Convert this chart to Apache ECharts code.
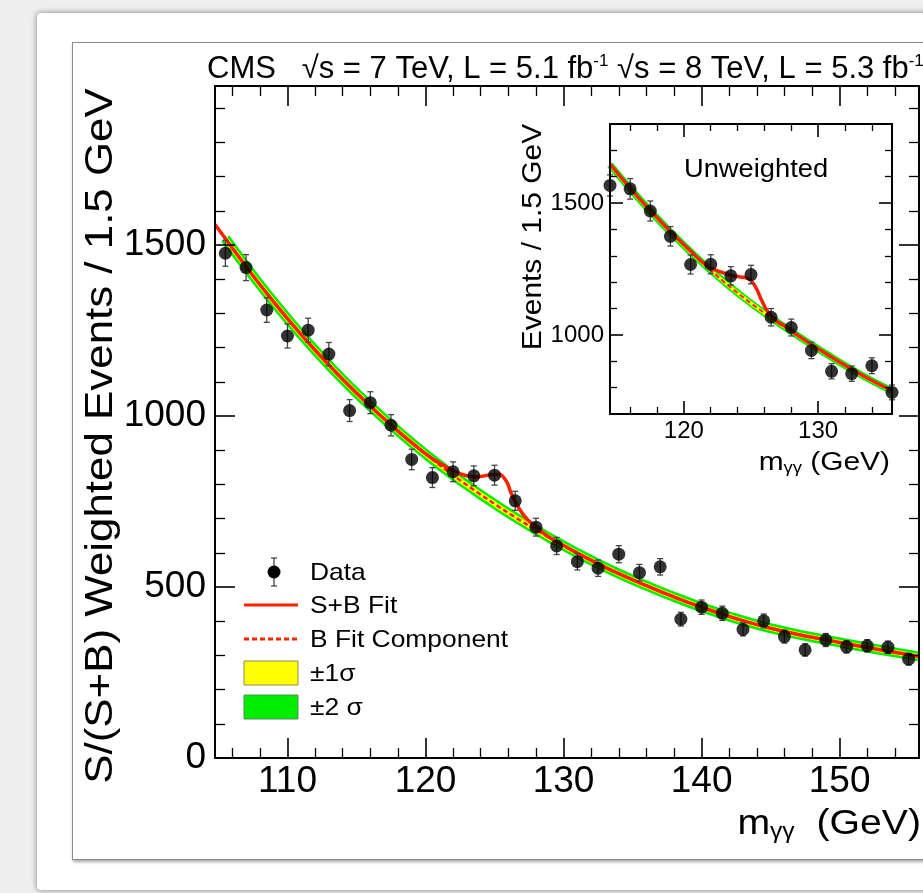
<!DOCTYPE html>
<html>
<head>
<meta charset="utf-8">
<script src="https://cdn.jsdelivr.net/npm/echarts@6/dist/echarts.min.js"></script>
<style>
html,body{margin:0;padding:0;width:923px;height:893px;overflow:hidden;background:#eeeeee;}
#card{position:absolute;left:37px;top:13px;width:960px;height:877px;background:#fff;box-shadow:0 0 5px 1px rgba(0,0,0,0.35);border-radius:4px;}
#inner{position:absolute;left:72px;top:42px;width:920px;height:816px;border:1px solid #8a8a8a;box-shadow:1px 2px 3px rgba(0,0,0,0.35);background:#fff;}
#chart{position:absolute;left:0;top:0;width:923px;height:893px;}
</style>
</head>
<body>
<div id="card"></div>
<div id="inner"></div>
<div id="chart"></div>
<script>
// ---------------- data ----------------
const mainX = [105.5,107,108.5,110,111.5,113,114.5,116,117.5,119,120.5,122,123.5,125,126.5,128,129.5,131,132.5,134,135.5,137,138.5,140,141.5,143,144.5,146,147.5,149,150.5,152,153.5,155];
const mainY = [1476,1434,1310,1234,1251,1181,1016,1039,973,873,820,837,825,827,752,675,620,574,555,596,542,559,406,441,423,376,401,355,316,345,325,328,324,289];
const mainErr = [38,38,36,35,35,34,32,32,31,30,29,29,29,29,28,26,25,24,24,25,24,24,20,21,21,19,20,19,18,19,18,18,18,17];

const mainBgX = [104.75,105.5,107,108.5,110,111.5,113,114.5,116,117.5,119,120.5,122,123.5,125,126.5,128,129.5,131,132.5,134,136,138,140,142,144,146,148,150,152,154,155.75];
const mainBgY = [1560,1519,1437,1359,1285,1215,1149,1087,1029,974,922,873,827,784,743,704,667,632,599,568,539,504,471,441,414,390,370,353,338,323,309,297];

const mainSbX = [104.75,105.5,107,108.5,110,111.5,113,114.5,116,117.5,119,120.5,121.3,122,122.9,123.7,124.5,125.2,125.8,126.2,126.8,127.4,128,128.8,129.5,131,132.5,134,136,138,140,142,144,146,148,150,152,154,155.75];
const mainSbY = [1560,1519,1437,1359,1285,1215,1149,1087,1029,974,922,875,856,840,826,822,827,830,813,775,728,697,676,650,633,599,568,539,504,471,441,414,390,370,353,338,323,309,297];

const insetX = [114.5,116,117.5,119,120.5,122,123.5,125,126.5,128,129.5,131,132.5,134,135.5];
const insetY = [1567,1554,1470,1374,1267,1268,1224,1229,1067,1028,941,862,853,883,782];
const insetErr = [40,39,38,37,36,36,35,35,33,32,31,29,29,30,28];

const insetBgX = [114.5,116,117.5,119,120.5,122,123.5,125,126.5,128,129.5,131,132.5,134,135.5];
const insetBgY = [1645,1555,1470,1390,1315,1245,1180,1120,1065,1013,963,915,869,826,788];

const insetSbX = [114.5,116,117.5,119,120.5,121.3,122,122.8,123.5,124.2,124.8,125.3,125.8,126.3,126.9,127.5,128,129.5,131,132.5,134,135.5];
const insetSbY = [1648,1557,1472,1392,1318,1280,1255,1238,1226,1220,1213,1185,1130,1085,1052,1034,1015,964,916,870,827,789];

// tick labels / positions
const mainXMajor = [110,120,130,140,150];
const mainXMinor = [106,108,112,114,116,118,122,124,126,128,132,134,136,138,142,144,146,148,152,154];
const mainYMajor = [0,500,1000,1500];
const mainYMinor = [100,200,300,400,600,700,800,900,1100,1200,1300,1400,1600,1700,1800,1900];
const insetXMajor = [120,130];
const insetXMinor = [116,118,122,124,126,128,132,134];
const insetYMajor = [1000,1500];
const insetYMinor = [800,900,1100,1200,1300,1400,1600,1700];

// ---------------- styling ----------------
const FONT = "'Liberation Sans', Arial, Helvetica, sans-serif";
const RED = '#ff2000';
const GREEN = '#00ee00';
const YELLOW = '#ffff00';

function pairs(xs, ys) { return xs.map((x, i) => [x, ys[i]]); }
const plain = v => String(v);

function makeAxes(dim, gridIndex, min, max, major, minor, labelStyle, majLen, minLen, lw) {
  const pos = dim === 'x' ? ['bottom', 'top'] : ['left', 'right'];
  const out = [];
  pos.forEach((p, pi) => {
    out.push({
      type: 'value', gridIndex: gridIndex, min: min, max: max, position: p, z: 20,
      splitLine: { show: false },
      axisLine: { show: true, onZero: false, lineStyle: { color: '#000', width: lw } },
      axisTick: { show: true, inside: true, length: majLen, customValues: major, lineStyle: { color: '#000', width: 1.6 } },
      axisLabel: pi === 0 ? Object.assign({ show: true, customValues: major, formatter: plain }, labelStyle) : { show: false }
    });
    out.push({
      type: 'value', gridIndex: gridIndex, min: min, max: max, position: p, z: 20,
      splitLine: { show: false },
      axisLine: { show: false, onZero: false },
      axisTick: { show: true, inside: true, length: minLen, customValues: minor, lineStyle: { color: '#000', width: 1.3 } },
      axisLabel: { show: false }
    });
  });
  return out;
}

const mainLabelX = { fontSize: 37, fontFamily: FONT, color: '#000', margin: 5 };
const mainLabelY = { fontSize: 37, fontFamily: FONT, color: '#000', margin: 9 };
const insetLabelX = { fontSize: 24, fontFamily: FONT, color: '#000', margin: 5 };
const insetLabelY = { fontSize: 24, fontFamily: FONT, color: '#000', margin: 6 };

const xAxes = [].concat(
  makeAxes('x', 0, 104.75, 155.75, mainXMajor, mainXMinor, mainLabelX, 20, 10, 2),
  makeAxes('x', 1, 114.5, 135.5, insetXMajor, insetXMinor, insetLabelX, 13, 7, 2)
);
const yAxes = [].concat(
  makeAxes('y', 0, 0, 1965, mainYMajor, mainYMinor, mainLabelY, 20, 10, 2),
  makeAxes('y', 1, 700, 1800, insetYMajor, insetYMinor, insetLabelY, 13, 7, 2)
);

function errorSeries(xs, ys, es, xi, yi, z) {
  return {
    type: 'custom', xAxisIndex: xi, yAxisIndex: yi, z: z, clip: false, silent: true,
    data: xs.map((x, i) => [x, ys[i] - es[i], ys[i] + es[i]]),
    renderItem: function (params, api) {
      const lo = api.coord([api.value(0), api.value(1)]);
      const hi = api.coord([api.value(0), api.value(2)]);
      const c = 3;
      const st = { stroke: '#444', lineWidth: 1.3 };
      return { type: 'group', children: [
        { type: 'line', shape: { x1: lo[0], y1: lo[1], x2: hi[0], y2: hi[1] }, style: st },
        { type: 'line', shape: { x1: lo[0] - c, y1: lo[1], x2: lo[0] + c, y2: lo[1] }, style: st },
        { type: 'line', shape: { x1: hi[0] - c, y1: hi[1], x2: hi[0] + c, y2: hi[1] }, style: st }
      ] };
    }
  };
}

function lineSeries(data, xi, yi, color, width, z, dashed) {
  return {
    type: 'line', xAxisIndex: xi, yAxisIndex: yi, data: data, z: z,
    showSymbol: false, symbol: 'none', smooth: 0.5, silent: true,
    lineStyle: { color: color, width: width, type: dashed ? [5, 3] : 'solid', cap: 'butt', join: 'round' },
    animation: false
  };
}

const series = [
  // main plot
  lineSeries(pairs(mainBgX.slice(1), mainBgY.slice(1)), 0, 0, GREEN, 10, 1),
  lineSeries(pairs(mainBgX.slice(1), mainBgY.slice(1)), 0, 0, YELLOW, 5, 2),
  lineSeries(pairs(mainBgX, mainBgY), 0, 0, RED, 2.5, 3, true),
  lineSeries(pairs(mainSbX, mainSbY), 0, 0, RED, 3.5, 4),
  errorSeries(mainX, mainY, mainErr, 0, 0, 5),
  { type: 'scatter', xAxisIndex: 0, yAxisIndex: 0, z: 6, symbol: 'circle', symbolSize: 13,
    itemStyle: { color: '#000' }, data: pairs(mainX, mainY), silent: true },
  // inset
  lineSeries(pairs(insetBgX, insetBgY), 4, 4, GREEN, 7, 11),
  lineSeries(pairs(insetBgX, insetBgY), 4, 4, YELLOW, 3.5, 12),
  lineSeries(pairs(insetBgX, insetBgY), 4, 4, RED, 2, 13, true),
  lineSeries(pairs(insetSbX, insetSbY), 4, 4, RED, 3.5, 14),
  errorSeries(insetX, insetY, insetErr, 4, 4, 15),
  { type: 'scatter', xAxisIndex: 4, yAxisIndex: 4, z: 16, symbol: 'circle', symbolSize: 13, clip: false,
    itemStyle: { color: '#000' }, data: pairs(insetX, insetY), silent: true }
];

function txt(text, x, y, size, opts) {
  opts = opts || {};
  return Object.assign({
    type: 'text', x: x, y: y, z: 100,
    style: Object.assign({
      text: text, fontSize: size, fontFamily: FONT, fill: '#000',
      align: opts.align || 'left', textAlign: opts.align || 'left',
      verticalAlign: 'middle', textVerticalAlign: 'middle'
    }, opts.style || {})
  }, opts.el || {});
}

const LS = { el: { scaleX: 1.1 } };
const legendGraphics = [
  { type: 'line', z: 100, shape: { x1: 274, y1: 558, x2: 274, y2: 586 }, style: { stroke: '#444', lineWidth: 1.3 } },
  { type: 'line', z: 100, shape: { x1: 271, y1: 558, x2: 277, y2: 558 }, style: { stroke: '#444', lineWidth: 1.3 } },
  { type: 'line', z: 100, shape: { x1: 271, y1: 586, x2: 277, y2: 586 }, style: { stroke: '#444', lineWidth: 1.3 } },
  { type: 'circle', z: 101, shape: { cx: 274, cy: 572, r: 6.5 }, style: { fill: '#000' } },
  txt('Data', 310, 573, 24, LS),
  { type: 'line', z: 100, shape: { x1: 244, y1: 605, x2: 298, y2: 605 }, style: { stroke: RED, lineWidth: 3 } },
  txt('S+B Fit', 310, 606, 24, LS),
  { type: 'line', z: 100, shape: { x1: 244, y1: 639, x2: 298, y2: 639 }, style: { stroke: RED, lineWidth: 3, lineDash: [5, 3] } },
  txt('B Fit Component', 310, 640, 24, LS),
  { type: 'rect', z: 100, shape: { x: 244, y: 661, width: 54, height: 24 }, style: { fill: YELLOW, stroke: '#8a8a60', lineWidth: 1 } },
  txt('±1σ', 310, 674, 24, LS),
  { type: 'rect', z: 100, shape: { x: 244, y: 695, width: 54, height: 24 }, style: { fill: GREEN, stroke: '#5a8a5a', lineWidth: 1 } },
  txt('±2 σ', 310, 708, 24, LS)
];

const titleGraphics = [
  txt('CMS   √s = 7 TeV, L = 5.1 fb{sup|-1} √s = 8 TeV, L = 5.3 fb{sup|-1}', 207, 69, 31, {
    style: { rich: { sup: { fontSize: 17, fontFamily: FONT, fill: '#000', padding: [0, 0, 16, 0] } } }
  }),
  txt('S/(S+B) Weighted Events / 1.5 GeV', 101, 436, 39, { align: 'center', el: { rotation: Math.PI / 2, scaleX: 1.125 } }),
  txt('m{sub|γγ}  (GeV)', 921, 824, 35, {
    align: 'right', el: { scaleX: 1.12 },
    style: { rich: { sub: { fontSize: 22, fontFamily: FONT, fill: '#000', padding: [16, 0, 0, 0] } } }
  }),
  txt('Events / 1.5 GeV', 533, 237, 28, { align: 'center', el: { rotation: Math.PI / 2, scaleX: 1.07 } }),
  txt('m{sub|γγ} (GeV)', 890, 463, 26, {
    align: 'right', el: { scaleX: 1.15 },
    style: { rich: { sub: { fontSize: 16, fontFamily: FONT, fill: '#000', padding: [12, 0, 0, 0] } } }
  }),
  txt('Unweighted', 756, 170, 26, { align: 'center', el: { scaleX: 1.05 } })
];

const chart = echarts.init(document.getElementById('chart'), null, { renderer: 'canvas' });
chart.setOption({
  animation: false,
  backgroundColor: 'transparent',
  grid: [
    { left: 215, top: 86, width: 704, height: 672, show: false },
    { left: 610, top: 124, width: 282, height: 290, show: true, backgroundColor: '#fff', borderWidth: 0 }
  ],
  xAxis: xAxes,
  yAxis: yAxes,
  series: series,
  graphic: { elements: legendGraphics.concat(titleGraphics) }
});
</script>
</body>
</html>
